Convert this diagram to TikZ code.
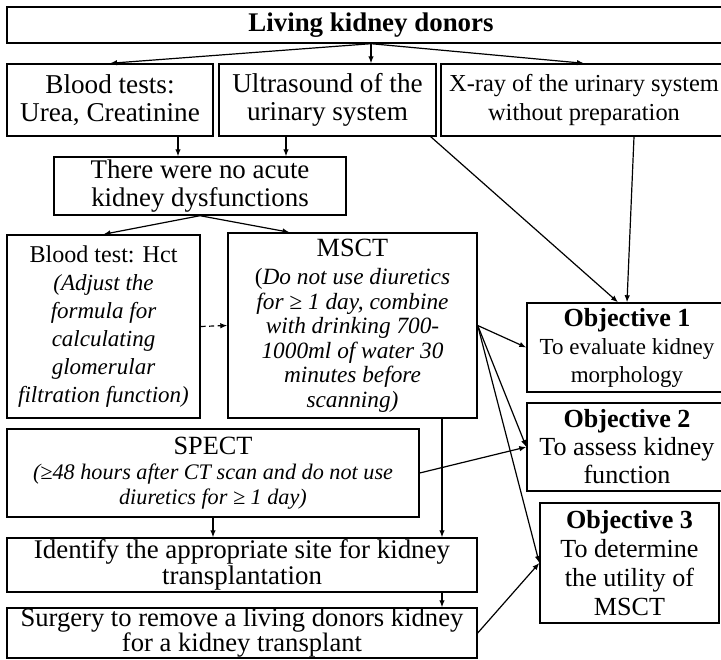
\documentclass[tikz,border=0pt]{standalone}
\usepackage{fontspec}
\setmainfont{Liberation Serif}
\usetikzlibrary{arrows.meta,calc}
\newcommand\fsz[2]{\fontsize{#1}{#2}\selectfont}
\begin{document}
\begin{tikzpicture}[x=1pt,y=-1pt,
  box/.style={draw, line width=1.4pt, inner sep=0pt, align=center, anchor=center},
  arr/.style={line width=1.2pt, -{Latex[length=7pt,width=5.5pt]}}]
\useasboundingbox (0,0) rectangle (721,660);
% nodes
\node[box, minimum width=728pt, minimum height=36pt, font=\fsz{26.9}{28}\bfseries] (top) at (371,25) {Living kidney donors};
\node[box, minimum width=206pt, minimum height=72pt, font=\fsz{27.2}{28.5}] (blood) at (110,100) {Blood tests:\\Urea, Creatinine};
\node[box, minimum width=217pt, minimum height=72pt, font=\fsz{27.2}{28.5}] (ultra) at (327.5,100) {Ultrasound of the\\urinary system};
\node[box, minimum width=286pt, minimum height=72pt, font=\fsz{24.4}{28.5}] (xray) at (584,100) {X-ray of the urinary system\\without preparation};
\node[box, minimum width=292pt, minimum height=58pt, font=\fsz{26.9}{27.5}] (noacute) at (200,186) {There were no acute\\kidney dysfunctions};
\node[box, minimum width=193pt, minimum height=183pt, font=\fsz{23}{28}\itshape] (hct) at (103.5,326.5)
  {{\upshape\fsz{24.1}{28}Blood test: Hct}\\(Adjust the\\formula for\\calculating\\glomerular\\filtration function)};
\node[box, minimum width=249pt, minimum height=185pt, font=\fsz{23.3}{24.5}\itshape] (msct) at (352.5,325.5)
  {{\upshape\fsz{26.3}{24.5}MSCT}\\[4pt]{\upshape(}Do not use diuretics\\for ≥ 1 day, combine\\with drinking 700-\\1000ml of water 30\\minutes before\\scanning)};
\node[box, minimum width=200pt, minimum height=89pt, font=\fsz{23}{28}] (obj1) at (627,347.5)
  {{\bfseries\fsz{26.1}{28}Objective 1}\\To evaluate kidney\\morphology};
\node[box, minimum width=200pt, minimum height=88pt, font=\fsz{26.1}{28}] (obj2) at (627,447)
  {{\bfseries Objective 2}\\To assess kidney\\function};
\node[box, minimum width=179pt, minimum height=120pt, font=\fsz{26.1}{29}] (obj3) at (629.5,563)
  {{\bfseries Objective 3}\\To determine\\the utility of\\MSCT};
\node[box, minimum width=412pt, minimum height=88pt, font=\fsz{22.2}{25}\itshape] (spect) at (213,473)
  {{\upshape\fsz{26.3}{25}SPECT}\\(≥48 hours after CT scan and do not use\\diuretics for ≥ 1 day)};
\node[box, minimum width=470pt, minimum height=54pt, font=\fsz{26.9}{26}] (ident) at (242,565)
  {Identify the appropriate site for kidney\\transplantation};
\node[box, minimum width=470pt, minimum height=50pt, font=\fsz{26.6}{25}] (surg) at (242,633)
  {Surgery to remove a living donors kidney\\for a kidney transplant};
% connectors
\draw[arr] (top.south) -- (blood.north);
\draw[arr] (top.south) -- (top.south |- ultra.north);
\draw[arr] (top.south) -- (xray.north);
\draw[arr] ([xshift=68pt]blood.south) -- ([xshift=68pt]blood.south |- noacute.north);
\draw[arr] ([xshift=-41.5pt]ultra.south) -- ([xshift=-41.5pt]ultra.south |- noacute.north);
\draw[arr] ([xshift=-6pt]ultra.south east) -- ([xshift=-9pt]obj1.north);
\draw[arr] ([xshift=50pt]xray.south) -- (obj1.north);
\draw[arr] (noacute.south) -- (hct.north);
\draw[arr] (noacute.south) -- ([xshift=-63pt]msct.north);
\draw[arr, dash pattern=on 5pt off 3.5pt] (hct.east) -- (msct.west);
\draw[arr] (msct.east) -- (obj1.west);
\draw[arr] (msct.east) -- (obj2.west);
\draw[arr] (msct.east) -- (obj3.west);
\draw[arr] ([xshift=89.5pt]msct.south) -- ([xshift=89.5pt]msct.south |- ident.north);
\draw[arr] (spect.south) -- (spect.south |- ident.north);
\draw[arr] (spect.east) -- (obj2.west);
\draw[arr] ([xshift=200pt]ident.south) -- ([xshift=200pt]ident.south |- surg.north);
\draw[arr] (surg.east) -- (obj3.west);
\end{tikzpicture}
\end{document}
